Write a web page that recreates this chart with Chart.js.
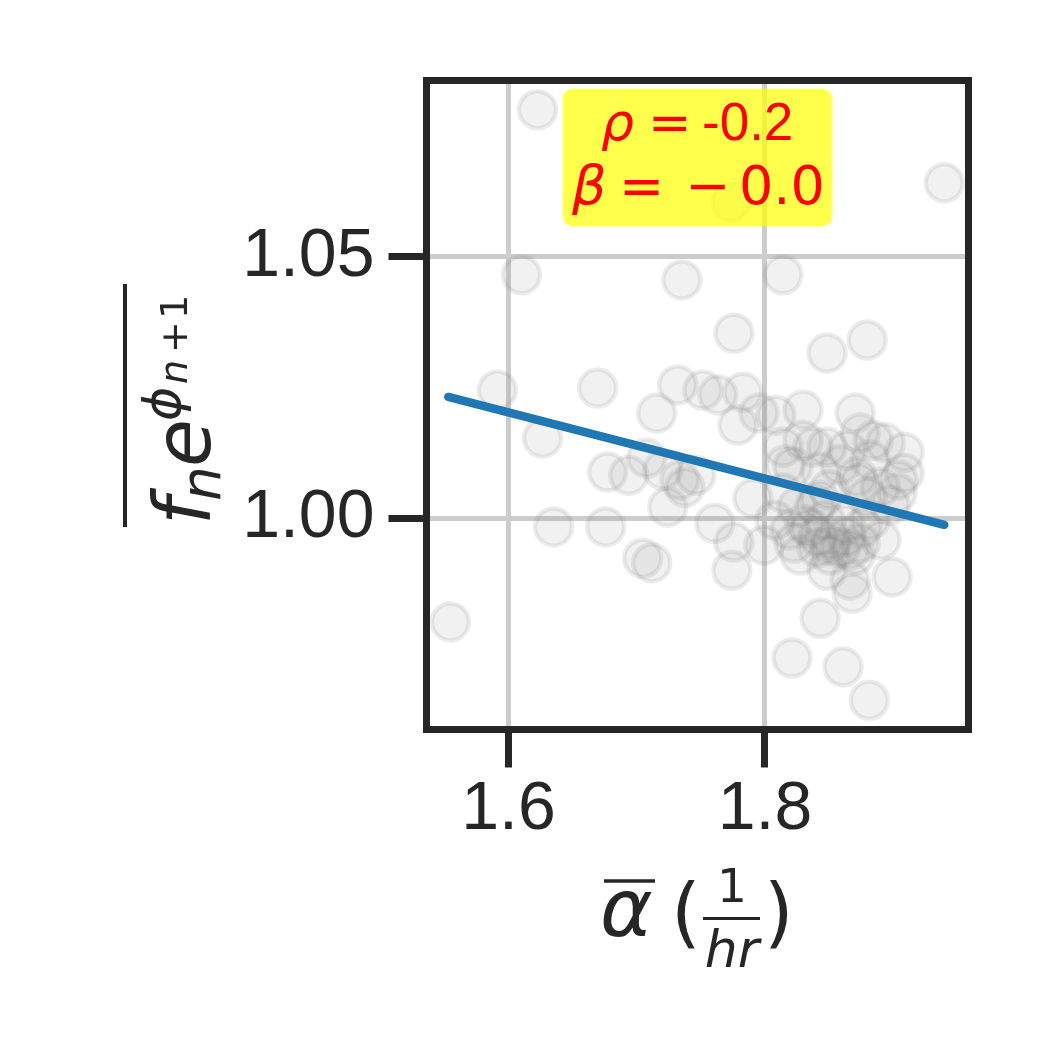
<!DOCTYPE html>
<html>
<head>
<meta charset="utf-8">
<script src="https://cdn.jsdelivr.net/npm/chart.js@4.4.1/dist/chart.umd.min.js"></script>
<style>
  html, body { margin: 0; padding: 0; background: #ffffff; }
  #wrap { width: 1050px; height: 1050px; }
</style>
</head>
<body>
<div id="wrap"><canvas id="c" width="1050" height="1050"></canvas></div>
<script>
// ---- data ----
const alphaBar = [1.6227,1.9398,1.7734,1.6102,1.7352,1.8141,1.7758,1.8484,1.8797,1.5914,
  1.6695,1.7320,1.7516,1.7633,1.7828,1.7156,1.7789,1.7953,1.8086,1.8297,
  1.8703,1.6266,1.8141,1.8297,1.8484,1.8375,1.8742,1.8844,1.8641,1.8938,
  1.9086,1.9086,1.8219,1.8430,1.8719,1.8898,1.9031,1.9039,1.6773,1.6938,
  1.7078,1.7203,1.7336,1.7461,1.7375,1.7242,1.7906,1.8141,1.8250,1.8500,
  1.8734,1.8797,1.8977,1.6352,1.6758,1.7609,1.7758,1.7992,1.8227,1.8414,
  1.8523,1.8633,1.8742,1.8906,1.8406,1.8586,1.7047,1.7117,1.7742,1.8484,
  1.8664,1.8680,1.8992,1.5547,1.8430,1.8211,1.8609,1.8813,1.8313,1.8469,
  1.8625,1.8273,1.8508,1.8703,1.8078,1.8820,1.8391,1.8156,1.8586,1.8820,
  1.8195,1.8352,1.8508,1.8664,1.8758,1.8430];
const fExpPhi = [1.0782,1.0642,1.0605,1.0466,1.0456,1.0466,1.0354,1.0316,1.0341,1.0245,
  1.0249,1.0255,1.0245,1.0236,1.0241,1.0201,1.0178,1.0201,1.0197,1.0207,
  1.0201,1.0153,1.0136,1.0149,1.0136,1.0136,1.0163,1.0149,1.0130,1.0144,
  1.0126,1.0086,1.0098,1.0088,1.0079,1.0059,1.0048,1.0073,1.0088,1.0082,
  1.0115,1.0092,1.0073,1.0082,1.0059,1.0021,1.0038,1.0048,1.0021,1.0054,
  1.0067,1.0040,1.0025,0.9983,0.9983,0.9990,0.9954,0.9948,0.9952,0.9964,
  0.9958,0.9964,0.9952,0.9958,0.9943,0.9943,0.9923,0.9914,0.9900,0.9900,
  0.9881,0.9856,0.9887,0.9801,0.9808,0.9732,0.9715,0.9651,0.9987,0.9996,
  0.9987,0.9929,0.9929,0.9929,0.9996,0.9996,1.0025,1.0102,1.0102,1.0111,
  0.9977,0.9981,0.9948,0.9939,0.9981,1.0034];
const fitX = [1.5531, 1.9398];
const fitY = [1.0232, 0.9987];
const xTicks = [1.6, 1.8];
const xTickLabels = ['1.6', '1.8'];
const yTicks = [1.00, 1.05];
const yTickLabels = ['1.00', '1.05'];
const xRange = [1.5361, 1.9587];
const yRange = [0.9595, 1.0838];
const statLines = { rho: '-0.2', beta: '0.0' };

const INK = '#262626';
const points = alphaBar.map((x, i) => ({ x: x, y: fExpPhi[i] }));
const fitLine = fitX.map((x, i) => ({ x: x, y: fitY[i] }));

const overlay = {
  id: 'overlay',
  afterDatasetsDraw(chart) {
    const ctx = chart.ctx;
    const a = chart.chartArea;
    ctx.save();
    // annotation box
    const bx = 562, by = 88, bw = 271, bh = 139, r = 9;
    ctx.beginPath();
    ctx.roundRect(bx + 1.5, by + 1.5, bw - 3, bh - 3, r);
    ctx.fillStyle = 'rgba(255,255,0,0.7)';
    ctx.fill();
    ctx.strokeStyle = 'rgba(255,255,0,0.3)';
    ctx.lineWidth = 3;
    ctx.stroke();
    ctx.fillStyle = '#ff0000';
    ctx.textBaseline = 'alphabetic';
    ctx.textAlign = 'left';
    // line 1
    ctx.font = 'italic 52px "DejaVu Sans"';
    ctx.fillText('ρ', 601, 140);
    ctx.font = '52px "DejaVu Sans"';
    ctx.fillText('=', 648, 140);
    ctx.font = '53px "Liberation Sans"';
    ctx.fillText(statLines.rho, 702, 140);
    // line 2
    ctx.font = 'italic 54px "DejaVu Sans"';
    ctx.fillText('β', 572, 204);
    ctx.font = '54px "DejaVu Sans"';
    ctx.fillText('=', 619, 204);
    ctx.fillText('\u2212', 685, 204);
    ctx.fillText(statLines.beta, 739, 204);

    // spines
    ctx.strokeStyle = INK;
    ctx.lineWidth = 7;
    ctx.lineJoin = 'miter';
    ctx.strokeRect(a.left, a.top, a.right - a.left, a.bottom - a.top);
    ctx.restore();
  },
  afterDraw(chart) {
    const ctx = chart.ctx;
    ctx.save();
    ctx.fillStyle = INK;
    ctx.strokeStyle = INK;
    ctx.textBaseline = 'alphabetic';
    ctx.textAlign = 'left';
    // x-axis title: overline alpha (1/hr)
    ctx.font = 'italic 80px "DejaVu Sans"';
    ctx.fillText('α', 600, 936);
    ctx.lineWidth = 3.5;
    ctx.beginPath(); ctx.moveTo(604, 881); ctx.lineTo(655, 881); ctx.stroke();
    ctx.font = '76px "DejaVu Sans"';
    ctx.fillText('(', 671, 938);
    ctx.fillText(')', 764, 938);
    ctx.textAlign = 'center';
    ctx.font = '47px "DejaVu Sans"';
    ctx.fillText('1', 732, 902);
    ctx.font = 'italic 52px "DejaVu Sans"';
    ctx.fillText('hr', 732, 967);
    ctx.lineWidth = 3;
    ctx.beginPath(); ctx.moveTo(703, 918.5); ctx.lineTo(760, 918.5); ctx.stroke();

    // y-axis title (rotated)
    ctx.translate(210, 523);
    ctx.rotate(-Math.PI / 2);
    ctx.textAlign = 'left';
    ctx.font = 'italic 78px "DejaVu Sans"';
    ctx.fillText('f', -2, 0);
    ctx.font = 'italic 55px "DejaVu Sans"';
    ctx.fillText('n', 22, 10);
    ctx.font = 'italic 78px "DejaVu Sans"';
    ctx.fillText('e', 56, 0);
    ctx.font = 'italic 52px "DejaVu Sans"';
    ctx.fillText('ϕ', 102, -30);
    ctx.font = 'italic 38px "DejaVu Sans"';
    ctx.fillText('n', 139, -23);
    ctx.font = '38px "DejaVu Sans"';
    ctx.fillText('+', 170, -23);
    ctx.fillText('1', 204, -23);
    ctx.lineWidth = 4;
    ctx.beginPath(); ctx.moveTo(-4, -85); ctx.lineTo(239, -85); ctx.stroke();
    ctx.restore();
  }
};

new Chart(document.getElementById('c'), {
  type: 'scatter',
  data: {
    datasets: [
      {
        type: 'line',
        data: fitLine,
        borderColor: '#1f77b4',
        borderWidth: 8.5,
        borderCapStyle: 'round',
        pointRadius: 0,
        fill: false,
        showLine: true
      },
      {
        data: points,
        pointRadius: 18.5,
        pointBorderWidth: 4.5,
        pointBackgroundColor: 'rgba(128,128,128,0.11)',
        pointBorderColor: 'rgba(128,128,128,0.15)',
        pointHoverRadius: 18.5
      }
    ]
  },
  options: {
    responsive: false,
    animation: false,
    events: [],
    layout: { padding: { top: 80.5, right: 81.5, left: 0, bottom: 0 } },
    plugins: { legend: { display: false }, tooltip: { enabled: false } },
    scales: {
      x: {
        type: 'linear',
        min: xRange[0], max: xRange[1],
        afterFit(s) { s.height = 320.5; },
        afterBuildTicks(s) { s.ticks = xTicks.map(v => ({ value: v })); },
        ticks: {
          callback: (v, i) => xTickLabels[i],
          font: { family: 'Liberation Sans', size: 68 },
          color: INK,
          padding: 2,
          maxRotation: 0
        },
        grid: {
          color: '#cccccc', lineWidth: 5,
          tickColor: INK, tickWidth: 7, tickLength: 38,
          drawTicks: true
        },
        border: { display: false }
      },
      y: {
        type: 'linear',
        min: yRange[0], max: yRange[1],
        afterFit(s) { s.width = 426.5; },
        afterBuildTicks(s) { s.ticks = yTicks.map(v => ({ value: v })); },
        ticks: {
          callback: (v, i) => yTickLabels[i],
          font: { family: 'Liberation Sans', size: 68 },
          color: INK,
          padding: 14
        },
        grid: {
          color: '#cccccc', lineWidth: 5,
          tickColor: INK, tickWidth: 7, tickLength: 38,
          drawTicks: true
        },
        border: { display: false }
      }
    }
  },
  plugins: [overlay]
});
</script>
</body>
</html>
